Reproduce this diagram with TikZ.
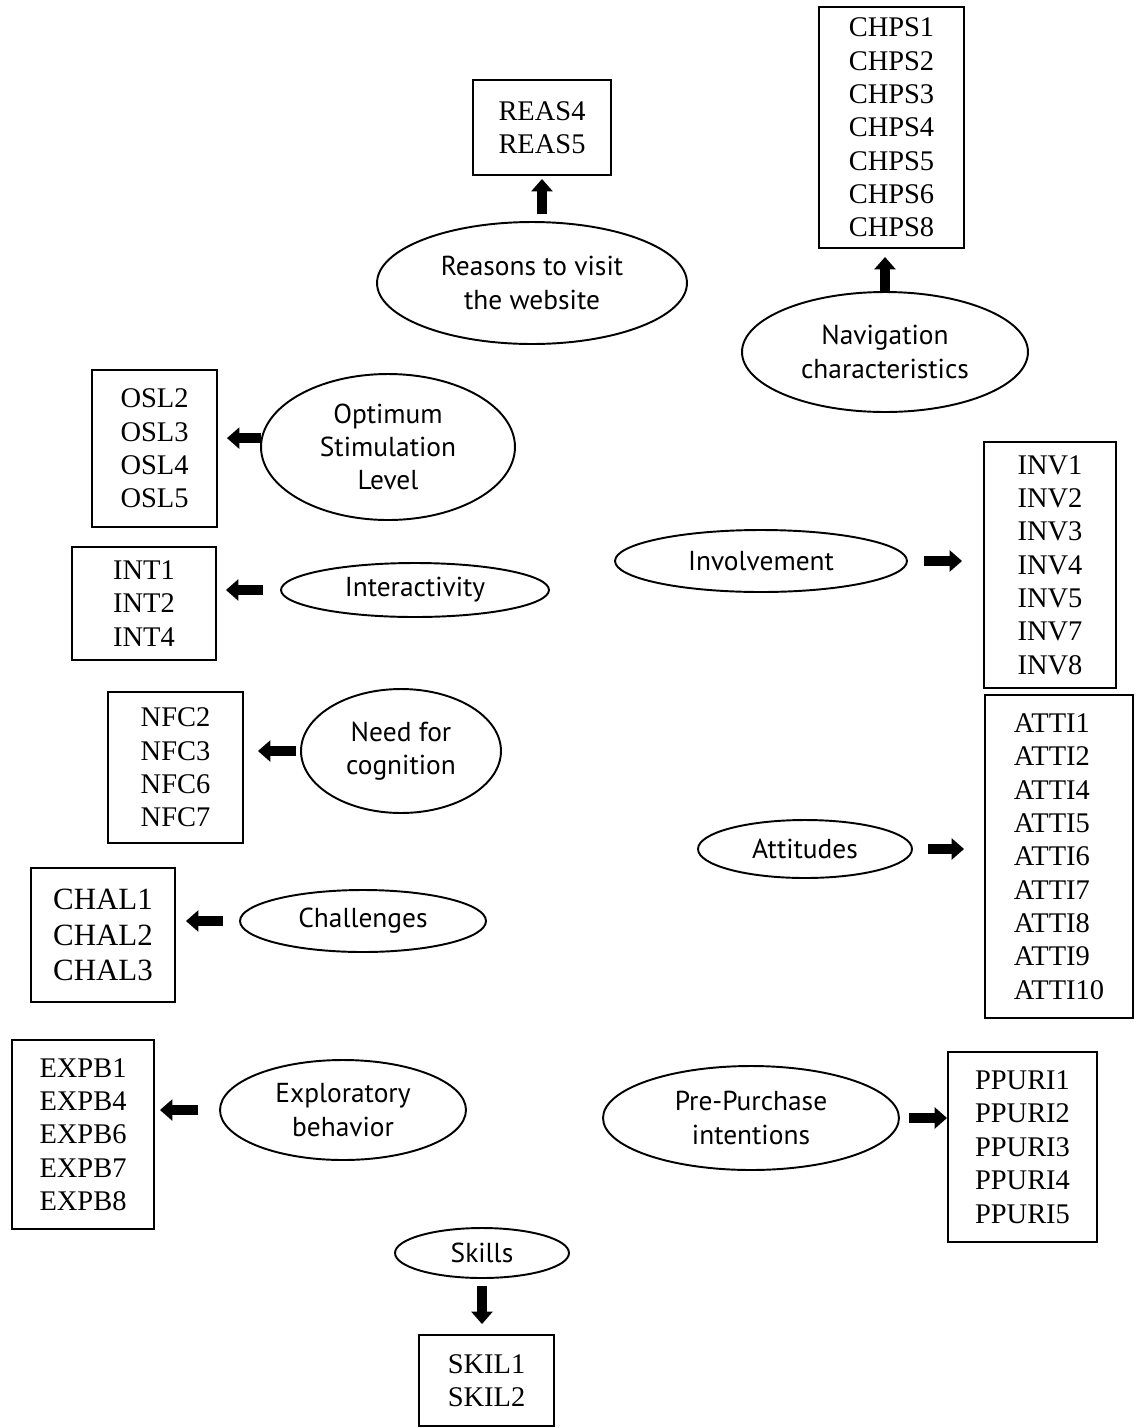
\documentclass[tikz,border=0pt]{standalone}
\usepackage{fontspec}
\setmainfont{Liberation Serif}
\newfontfamily\ovalfont{PT Sans}
\usepackage{tikz}
\usetikzlibrary{arrows.meta}
\usetikzlibrary{shapes.geometric}

\begin{document}
\begin{tikzpicture}[x=0.02cm,y=-0.02cm,line width=1.1pt,>={Triangle[length=0.25cm,width=0.42cm]},
    itembox/.style={draw,inner sep=0pt,align=left,font=\fontsize{16.2}{19}\selectfont},
    construct/.style={draw,ellipse,inner sep=0pt,align=center,font=\ovalfont\fontsize{15.6}{19}\selectfont},
    fat/.style={->,line width=5.5pt}]
    \useasboundingbox (0,0) rectangle (1138,1428);

    \node[itembox,minimum width=2.76cm,minimum height=1.90cm] (reasbox) at (542,127.5) {REAS4\\REAS5};
    \node[itembox,minimum width=2.90cm,minimum height=4.82cm] (chpsbox) at (891.5,127.5) {CHPS1\\CHPS2\\CHPS3\\CHPS4\\CHPS5\\CHPS6\\CHPS8};
    \node[itembox,minimum width=2.50cm,minimum height=3.14cm] (oslbox) at (154.5,448.5) {OSL2\\OSL3\\OSL4\\OSL5};
    \node[itembox,minimum width=2.88cm,minimum height=2.26cm] (intbox) at (144,603.5) {INT1\\INT2\\INT4};
    \node[itembox,minimum width=2.64cm,minimum height=4.92cm] (invbox) at (1050,565) {INV1\\INV2\\INV3\\INV4\\INV5\\INV7\\INV8};
    \node[itembox,minimum width=2.70cm,minimum height=3.02cm] (nfcbox) at (175.5,767.5) {NFC2\\NFC3\\NFC6\\NFC7};
    \node[itembox,minimum width=2.96cm,minimum height=6.46cm] (attbox) at (1059,856.5) {ATTI1\\ATTI2\\ATTI4\\ATTI5\\ATTI6\\ATTI7\\ATTI8\\ATTI9\\ATTI10};
    \node[itembox,minimum width=2.88cm,minimum height=2.68cm,font=\fontsize{17.6}{20}\selectfont] (chalbox) at (103,935) {CHAL1\\CHAL2\\CHAL3};
    \node[itembox,minimum width=2.84cm,minimum height=3.78cm] (expbbox) at (83,1134.5) {EXPB1\\EXPB4\\EXPB6\\EXPB7\\EXPB8};
    \node[itembox,minimum width=2.98cm,minimum height=3.80cm] (ppurbox) at (1022.5,1147) {PPURI1\\PPURI2\\PPURI3\\PPURI4\\PPURI5};
    \node[itembox,minimum width=2.70cm,minimum height=1.82cm] (skilbox) at (486.5,1380.5) {SKIL1\\SKIL2};

    \node[construct,minimum width=6.20cm,minimum height=2.44cm] (reas) at (532,283) {Reasons to visit\\the website};
    \node[construct,minimum width=5.72cm,minimum height=2.40cm] (nav) at (885,352) {Navigation\\characteristics};
    \node[construct,minimum width=5.08cm,minimum height=2.92cm] (osl) at (388,447) {Optimum\\Stimulation\\Level};
    \node[construct,minimum width=5.36cm,minimum height=1.08cm] (int) at (415,590) {Interactivity};
    \node[construct,minimum width=5.84cm,minimum height=1.24cm] (inv) at (761,561) {Involvement};
    \node[construct,minimum width=4.00cm,minimum height=2.48cm] (nfc) at (401,751) {Need for\\cognition};
    \node[construct,minimum width=4.28cm,minimum height=1.16cm] (att) at (805,849) {Attitudes};
    \node[construct,minimum width=4.92cm,minimum height=1.24cm] (chal) at (363,921) {Challenges};
    \node[construct,minimum width=4.92cm,minimum height=2.00cm] (expb) at (343,1110) {Exploratory\\behavior};
    \node[construct,minimum width=5.92cm,minimum height=2.08cm] (ppur) at (751,1118) {Pre-Purchase\\intentions};
    \node[construct,minimum width=3.48cm,minimum height=1.00cm] (skil) at (482,1253) {Skills};

    \draw[fat,shorten <=0.14cm,shorten >=0.06cm] (reasbox.south |- reas.north) -- (reasbox.south);
    \draw[fat,shorten >=0.16cm] (nav.north) -- (nav.north |- chpsbox.south);
    \draw[fat,shorten >=0.18cm] (osl.176) -- (osl.176 -| oslbox.east);
    \draw[fat,shorten <=0.34cm,shorten >=0.18cm] (int.west) -- (int.west -| intbox.east);
    \draw[fat,shorten <=0.32cm,shorten >=0.42cm] (inv.east) -- (inv.east -| invbox.west);
    \draw[fat,shorten <=0.08cm,shorten >=0.28cm] (nfc.west) -- (nfc.west -| nfcbox.east);
    \draw[fat,shorten <=0.30cm,shorten >=0.40cm] (att.east) -- (att.east -| attbox.west);
    \draw[fat,shorten <=0.32cm,shorten >=0.20cm] (chal.west) -- (chal.west -| chalbox.east);
    \draw[fat,shorten <=0.42cm,shorten >=0.10cm] (expb.west) -- (expb.west -| expbbox.east);
    \draw[fat,shorten <=0.18cm] (ppur.east) -- (ppur.east -| ppurbox.west);
    \draw[fat,shorten <=0.14cm,shorten >=0.20cm] (skil.south) -- (skil.south |- skilbox.north);
\end{tikzpicture}
\end{document}
